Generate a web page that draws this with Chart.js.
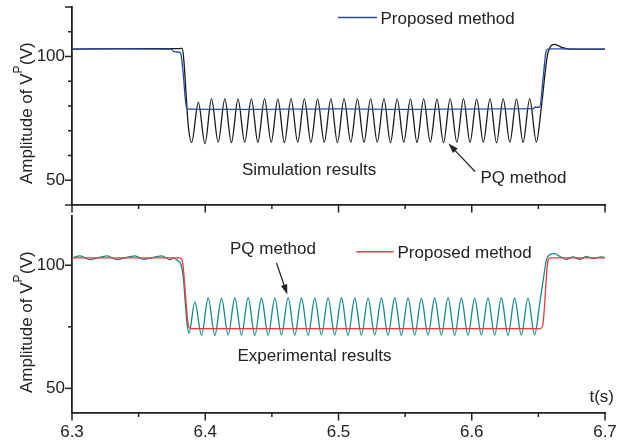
<!DOCTYPE html>
<html>
<head>
<meta charset="utf-8">
<script src="https://cdn.jsdelivr.net/npm/chart.js@4.4.0/dist/chart.umd.min.js"></script>
<style>
  html, body { margin: 0; padding: 0; background: #fff; }
  #wrap { position: relative; width: 624px; height: 442px; }
  #wrap canvas { position: absolute; left: 0; top: 0; }
</style>
</head>
<body>
<div id="wrap">
  <canvas id="simChart" width="624" height="442"></canvas>
  <canvas id="expChart" width="624" height="442"></canvas>
</div>
<script>
// eixos
const xMin = 6.3, xMax = 6.7;
const yMin = 40, yMax = 120;
const xLabels = [6.3, 6.4, 6.5, 6.6, 6.7];
const xMinor = [6.35, 6.45, 6.55, 6.65];
const yLabels = [50, 100];
const simYMajor = [40, 50, 100, 120];
const simYMinor = [60, 70, 80, 90, 110];
const expYMajor = [50, 100];
const expYMinor = [75];

// painel de cima: simulação
const simPropT = [6.300, 6.340, 6.3745, 6.3765, 6.3800, 6.3815,
  6.3835, 6.3850, 6.3862, 6.3880,
  6.4200, 6.4600, 6.5000, 6.5400, 6.5800, 6.6200,
  6.6460, 6.6475, 6.6510, 6.6535,
  6.6560, 6.6580, 6.6800, 6.7000];
const simPropV = [103.0, 103.1, 103.0, 102.0, 101.8, 101.4,
  93.0, 83.0, 79.0, 78.7,
  78.6, 78.7, 78.8, 78.6, 78.7, 78.8,
  78.9, 79.5, 79.6, 91.0,
  102.6, 103.1, 103.0, 103.0];

const simPqT = [6.300, 6.350, 6.3805, 6.3828, 6.3843, 6.3857, 6.3873,
  6.3898, 6.3948, 6.3998, 6.4047, 6.4097, 6.4147, 6.4196, 6.4246, 6.4296, 6.4346,
  6.4395, 6.4445, 6.4495, 6.4545, 6.4594, 6.4644, 6.4694, 6.4744, 6.4793, 6.4843,
  6.4893, 6.4943, 6.4992, 6.5042, 6.5092, 6.5142, 6.5191, 6.5241, 6.5291, 6.5341,
  6.5390, 6.5440, 6.5490, 6.5540, 6.5589, 6.5639, 6.5689, 6.5739, 6.5788, 6.5838,
  6.5888, 6.5938, 6.5987, 6.6037, 6.6087, 6.6137, 6.6186, 6.6236, 6.6286, 6.6336,
  6.6385, 6.6435, 6.6485,
  6.6523, 6.6572, 6.6623, 6.6680, 6.6740, 6.7000];
const simPqV = [103.0, 103.2, 103.2, 103.3, 96.0, 84.0, 71.8,
  65.3, 81.5, 64.8, 82.9, 65.4, 82.9, 65.2, 82.8, 65.4, 82.9,
  65.3, 82.9, 65.4, 82.8, 65.2, 82.9, 65.4, 82.9, 65.3, 82.8,
  65.4, 82.9, 65.2, 82.9, 65.4, 82.8, 65.3, 82.9, 65.4, 82.9,
  65.2, 82.8, 65.4, 82.9, 65.3, 82.9, 65.4, 82.8, 65.2, 82.9,
  65.4, 82.9, 65.3, 82.8, 65.4, 82.9, 65.2, 82.9, 65.4, 82.8,
  65.3, 82.9, 65.4,
  79.9, 101.5, 104.9, 103.6, 103.0, 103.0];

// painel de baixo: experimental
const expPropT = [6.300, 6.3805, 6.3825, 6.3875, 6.3892, 6.5000, 6.6515, 6.6532, 6.6572, 6.6588, 6.7000];
const expPropV = [103.0, 103.0, 102.4, 75.2, 74.3, 74.3, 74.3, 75.4, 101.8, 103.0, 103.0];

const expPqT = [6.300, 6.306, 6.3135, 6.3265, 6.3335, 6.3473, 6.3535, 6.3673, 6.3735, 6.3762,
  6.3800, 6.3818, 6.3835, 6.3862, 6.3878, 6.3922,
  6.3972, 6.4022, 6.4072, 6.4122, 6.4172, 6.4222, 6.4272, 6.4322, 6.4372, 6.4422,
  6.4472, 6.4522, 6.4572, 6.4622, 6.4672, 6.4722, 6.4772, 6.4822, 6.4872, 6.4922,
  6.4972, 6.5022, 6.5072, 6.5122, 6.5172, 6.5222, 6.5272, 6.5322, 6.5372, 6.5422,
  6.5472, 6.5522, 6.5572, 6.5622, 6.5672, 6.5722, 6.5772, 6.5822, 6.5872, 6.5922,
  6.5972, 6.6022, 6.6072, 6.6122, 6.6172, 6.6222, 6.6272, 6.6322, 6.6372, 6.6422,
  6.6472,
  6.6510, 6.6535, 6.6560, 6.6590, 6.6622, 6.6660, 6.6710, 6.6760, 6.6810, 6.6860, 6.6910, 6.6973, 6.7000];
const expPqV = [103.0, 103.8, 102.3, 103.8, 102.3, 103.8, 102.4, 103.8, 102.3, 102.9,
  101.5, 100.4, 95.0, 77.0, 72.3, 85.1,
  71.6, 86.7, 71.5, 86.6, 71.7, 86.7, 71.6, 86.8, 71.5, 86.7,
  71.6, 86.6, 71.7, 86.8, 71.6, 86.7, 71.5, 86.6, 71.7, 86.7,
  71.6, 86.8, 71.5, 86.7, 71.6, 86.6, 71.7, 86.7, 71.6, 86.8,
  71.5, 86.7, 71.6, 86.6, 71.7, 86.7, 71.6, 86.8, 71.5, 86.7,
  71.6, 86.6, 71.7, 86.7, 71.6, 86.8, 71.5, 86.7, 71.6, 86.6,
  71.7,
  84.5, 93.5, 102.0, 104.4, 104.7, 103.6, 102.4, 103.4, 102.4, 103.6, 102.7, 103.4, 103.1];

const FONT = '"Liberation Sans", Arial, Helvetica, sans-serif';
const INK = '#222';

function pts(t, v) {
  return t.map((x, i) => ({ x: x, y: v[i] }));
}

function lineDs(label, t, v, color) {
  return {
    label: label,
    data: pts(t, v),
    borderColor: color,
    borderWidth: 1.3,
    pointRadius: 0,
    fill: false,
    cubicInterpolationMode: 'monotone'
  };
}

function tick(ctx, x1, y1, x2, y2) {
  ctx.beginPath();
  ctx.moveTo(x1, y1);
  ctx.lineTo(x2, y2);
  ctx.stroke();
}

function arrow(ctx, x1, y1, x2, y2) {
  const a = Math.atan2(y2 - y1, x2 - x1), L = 10, W = 3.3;
  ctx.beginPath();
  ctx.moveTo(x1, y1);
  ctx.lineTo(x2 - L * 0.8 * Math.cos(a), y2 - L * 0.8 * Math.sin(a));
  ctx.stroke();
  ctx.beginPath();
  ctx.moveTo(x2, y2);
  ctx.lineTo(x2 - L * Math.cos(a) + W * Math.sin(a), y2 - L * Math.sin(a) - W * Math.cos(a));
  ctx.lineTo(x2 - L * Math.cos(a) - W * Math.sin(a), y2 - L * Math.sin(a) + W * Math.cos(a));
  ctx.closePath();
  ctx.fill();
}

// título do eixo y com o "p" sobrescrito
function yTitle(ctx, startY) {
  ctx.save();
  ctx.translate(31.5, startY);
  ctx.rotate(-Math.PI / 2);
  ctx.fillStyle = INK;
  ctx.textAlign = 'left';
  ctx.textBaseline = 'alphabetic';
  ctx.font = '17px ' + FONT;
  const a = 'Amplitude of V';
  ctx.fillText(a, 0, 0);
  let x = ctx.measureText(a).width;
  ctx.font = '12px ' + FONT;
  ctx.fillText('P', x, -10);
  x += ctx.measureText('P').width + 0.5;
  ctx.font = '17px ' + FONT;
  ctx.fillText('(V)', x, 0);
  ctx.restore();
}

function decor(panel) {
  return {
    id: 'decor_' + panel.name,
    afterDraw(chart) {
      const ctx = chart.ctx;
      const area = chart.chartArea;
      const xs = chart.scales.x, ys = chart.scales.y;
      ctx.save();
      ctx.strokeStyle = INK;
      ctx.fillStyle = INK;
      ctx.lineWidth = 1.5;
      panel.yMajor.forEach(v => { const p = ys.getPixelForValue(v); tick(ctx, area.left, p, area.left - 7, p); });
      panel.yMinor.forEach(v => { const p = ys.getPixelForValue(v); tick(ctx, area.left, p, area.left - 4, p); });
      xLabels.forEach(v => { const p = xs.getPixelForValue(v); tick(ctx, p, area.bottom, p, area.bottom + 7.5); });
      xMinor.forEach(v => { const p = xs.getPixelForValue(v); tick(ctx, p, area.bottom, p, area.bottom + 4); });

      yTitle(ctx, area.top + 177);

      ctx.font = '17px ' + FONT;
      ctx.textBaseline = 'alphabetic';
      panel.texts.forEach(t => {
        ctx.textAlign = t.align || 'left';
        ctx.fillText(t.s, t.x, t.y);
      });

      ctx.lineWidth = 1.2;
      panel.arrows.forEach(a => arrow(ctx, a[0], a[1], a[2], a[3]));

      ctx.lineWidth = 1.5;
      ctx.strokeStyle = panel.legendColor;
      tick(ctx, panel.legend[0], panel.legend[2], panel.legend[1], panel.legend[2]);
      ctx.restore();
    }
  };
}

// sem margens automáticas das legendas dos eixos
function noPad(s) {
  s.paddingTop = 0;
  s.paddingBottom = 0;
  s.paddingLeft = 0;
  s.paddingRight = 0;
}

function makeChart(id, datasets, panel, showX) {
  return new Chart(document.getElementById(id), {
    type: 'line',
    data: { datasets: datasets },
    options: {
      responsive: false,
      animation: false,
      events: [],
      layout: { padding: panel.padding },
      plugins: { legend: { display: false }, tooltip: { enabled: false } },
      scales: {
        x: {
          type: 'linear',
          min: xMin,
          max: xMax,
          grid: { display: false, drawTicks: false },
          border: { display: true, color: INK, width: 1.8 },
          afterBuildTicks: s => { s.ticks = xLabels.map(v => ({ value: v })); },
          ticks: {
            display: showX,
            autoSkip: false,
            maxRotation: 0,
            padding: 9,
            color: INK,
            font: { family: FONT, size: 17 },
            callback: v => v.toFixed(1)
          },
          afterFit: s => { s.height = panel.xHeight; noPad(s); }
        },
        y: {
          type: 'linear',
          min: yMin,
          max: yMax,
          grid: { display: false, drawTicks: false },
          border: { display: true, color: INK, width: 1.8 },
          afterBuildTicks: s => { s.ticks = yLabels.map(v => ({ value: v })); },
          ticks: {
            padding: 7,
            color: INK,
            font: { family: FONT, size: 17 },
            callback: v => String(v)
          },
          afterFit: s => { s.width = 72; noPad(s); }
        }
      }
    },
    plugins: [decor(panel)]
  });
}

const simPanel = {
  name: 'sim',
  padding: { top: 7, right: 19, bottom: 237, left: 0 },
  xHeight: 0,
  yMajor: simYMajor,
  yMinor: simYMinor,
  texts: [
    { s: 'Proposed method', x: 380.5, y: 24 },
    { s: 'Simulation results', x: 242, y: 175 },
    { s: 'PQ method', x: 480.5, y: 182.5 }
  ],
  arrows: [[475, 171.5, 448.5, 143.5]],
  legend: [338, 377, 17.5],
  legendColor: '#2a4a9e'
};

const expPanel = {
  name: 'exp',
  padding: { top: 216, right: 19, bottom: 0, left: 0 },
  xHeight: 29,
  yMajor: expYMajor,
  yMinor: expYMinor,
  texts: [
    { s: 'PQ method', x: 230, y: 254 },
    { s: 'Proposed method', x: 397.5, y: 257.5 },
    { s: 'Experimental results', x: 237.5, y: 361 },
    { s: 't(s)', x: 614, y: 402, align: 'right' }
  ],
  arrows: [[276.5, 263, 287.3, 294.5]],
  legend: [356.5, 393.5, 251.7],
  legendColor: '#f0383c'
};

makeChart('simChart', [
  lineDs('Proposed method', simPropT, simPropV, '#2a4a9e'),
  lineDs('PQ method', simPqT, simPqV, '#1a1a1a')
], simPanel, false);

makeChart('expChart', [
  lineDs('Proposed method', expPropT, expPropV, '#f0383c'),
  lineDs('PQ method', expPqT, expPqV, '#148a8a')
], expPanel, true);
</script>
</body>
</html>
